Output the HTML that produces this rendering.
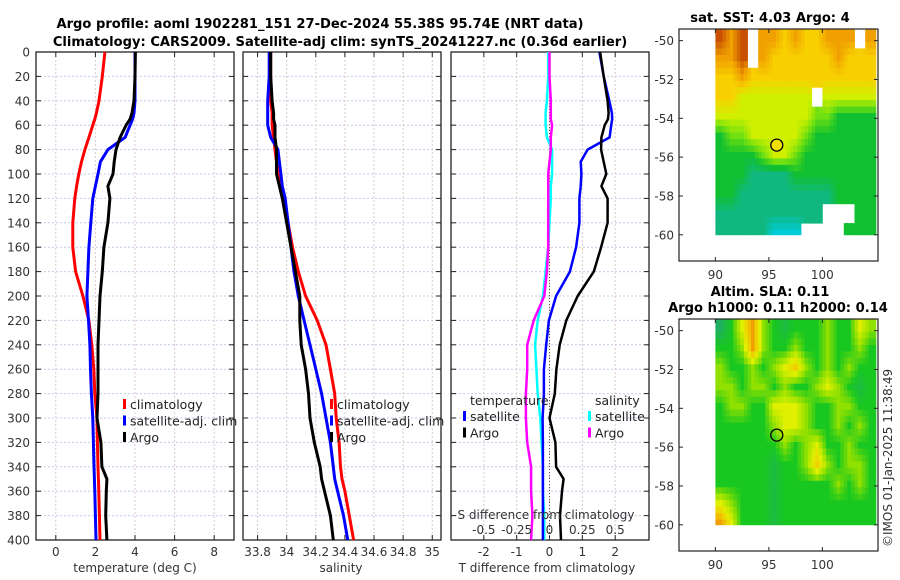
<!DOCTYPE html>
<html><head><meta charset="utf-8"><style>
html,body{margin:0;padding:0;background:#fff;}
svg{display:block;font-family:"DejaVu Sans","Liberation Sans",sans-serif;}
.tk{font-size:12px;fill:#333;}
.ttl{font-size:13.1px;font-weight:bold;fill:#000;}
.lg{font-size:12.5px;fill:#222;}
</style></head><body>
<svg id="chart" width="900" height="580" viewBox="0 0 900 580">
<text class="ttl" x="320" y="28" text-anchor="middle">Argo profile: aoml 1902281_151 27-Dec-2024 55.38S 95.74E (NRT data)</text>
<text class="ttl" x="340" y="46" text-anchor="middle">Climatology: CARS2009. Satellite-adj clim: synTS_20241227.nc (0.36d earlier)</text>
<g id="p1"></g>
<g id="p2"></g>
<g id="p3"></g>
<g id="m1"></g>
<g id="m2"></g>
<text class="tk" transform="translate(892,547) rotate(-90)">©IMOS 01-Jan-2025 11:38:49</text>
</svg>
<script>
const depths = [0,20,40,50,55,60,70,80,90,100,110,120,140,160,180,200,220,240,260,280,300,320,340,350,360,380,400];
const tempClim = [2.48,2.35,2.18,2.05,1.97,1.87,1.67,1.47,1.30,1.16,1.05,0.96,0.86,0.86,1.00,1.37,1.67,1.82,1.92,1.97,2.08,2.10,2.13,2.15,2.17,2.20,2.23];
const tempSat = [4.00,4.00,4.00,3.95,3.88,3.75,3.50,2.63,2.25,2.13,2.00,1.87,1.77,1.67,1.62,1.57,1.65,1.72,1.75,1.80,1.87,1.90,1.93,1.95,1.97,2.00,2.03];
const tempArgo = [4.02,4.00,3.95,3.85,3.75,3.55,3.25,3.04,2.95,2.89,2.63,2.73,2.63,2.43,2.35,2.23,2.18,2.13,2.13,2.13,2.08,2.28,2.33,2.58,2.55,2.52,2.58];
const salClim = [33.89,33.89,33.89,33.90,33.90,33.90,33.91,33.92,33.93,33.94,33.96,33.98,34.01,34.04,34.08,34.13,34.21,34.27,34.30,34.33,34.34,34.36,34.37,34.38,34.40,34.43,34.46];
const salSat = [33.88,33.88,33.87,33.87,33.87,33.87,33.89,33.94,33.95,33.96,33.97,33.99,34.01,34.03,34.05,34.08,34.12,34.16,34.20,34.24,34.27,34.30,34.32,34.33,34.35,34.39,34.42];
const salArgo = [33.89,33.89,33.90,33.91,33.91,33.92,33.92,33.93,33.93,33.93,33.95,33.97,34.00,34.03,34.06,34.09,34.09,34.10,34.13,34.15,34.16,34.19,34.23,34.24,34.26,34.30,34.32];
const yTicks = [0,20,40,60,80,100,120,140,160,180,200,220,240,260,280,300,320,340,360,380,400];
const tTicks = [0,2,4,6,8];
const sTicks = [33.8,34,34.2,34.4,34.6,34.8,35];
const dTicks = [-2,-1,0,1,2];
const sdTicks = [-0.5,-0.25,0,0.25,0.5];

const NS='http://www.w3.org/2000/svg';
function mk(parent,tag,attrs,text){const e=document.createElementNS(NS,tag);for(const k in attrs)e.setAttribute(k,attrs[k]);if(text!==undefined)e.textContent=text;parent.appendChild(e);return e;}
const Y0=52,Y1=540;
const yScale=d=>Y0+d/400*(Y1-Y0);

function panel(g,x0,x1,xmin,xmax,xt,showY){
  const xs=v=>x0+(v-xmin)/(xmax-xmin)*(x1-x0);
  yTicks.forEach(d=>{const y=yScale(d);
    const l=mk(g,'line',{x1:x0,x2:x1,y1:y,y2:y,stroke:'#c4cbe8','stroke-width':1,'stroke-dasharray':'2,2'});
    
    
    mk(g,'line',{x1:x0,x2:x0+5,y1:y,y2:y,stroke:'#222'});mk(g,'line',{x1:x1-5,x2:x1,y1:y,y2:y,stroke:'#222'});
    if(showY){const t=mk(g,'text',{class:'tk',x:x0-6,y:y+4.5,'text-anchor':'end'},String(d));
      
      }
  });
  xt.forEach(v=>{const x=xs(v);
    const l=mk(g,'line',{x1:x,x2:x,y1:Y0,y2:Y1,stroke:'#dcc8cc','stroke-width':1,'stroke-dasharray':'2,2'});
    
    
    mk(g,'line',{x1:x,x2:x,y1:Y1,y2:Y1-5,stroke:'#222'});mk(g,'line',{x1:x,x2:x,y1:Y0,y2:Y0+5,stroke:'#222'});
    const t=mk(g,'text',{class:'tk',x:x,y:556,'text-anchor':'middle'},String(v));
    
    
  });
  const r=mk(g,'rect',{x:x0,y:Y0,width:x1-x0,height:Y1-Y0,fill:'none',stroke:'#222','stroke-width':1.3});
  
  
  return xs;
}
function line(g,xs,vals,color,name,w){
  const pts=vals.map((v,i)=>xs(v).toFixed(1)+','+yScale(depths[i]).toFixed(1)).join(' ');
  const p=mk(g,'polyline',{points:pts,fill:'none',stroke:color,'stroke-width':w||3,'stroke-linejoin':'round'});
  
  
}
function legend(g,x,y,items){
  items.forEach((it,i)=>{const yy=y+i*16.5;
    mk(g,'rect',{x:x,y:yy-10,width:3,height:10,fill:it[1]});
    const t=mk(g,'text',{class:'lg',x:x+7,y:yy},it[0]);
    
    
  });
}
const g1=document.getElementById('p1');
const xs1=panel(g1,36,234,-1,9,tTicks,true);
line(g1,xs1,tempClim,'#f00','temp-climatology-line');
line(g1,xs1,tempSat,'#00f','temp-satellite-line');
line(g1,xs1,tempArgo,'#000','temp-argo-line');
legend(g1,123,409,[['climatology','#f00'],['satellite-adj. clim','#00f'],['Argo','#000']]);
let t=mk(g1,'text',{class:'tk',x:135,y:572,'text-anchor':'middle'},'temperature (deg C)');

const g2=document.getElementById('p2');
const xs2=panel(g2,243,441,33.7,35.06,sTicks,false);
line(g2,xs2,salClim,'#f00','sal-climatology-line');
line(g2,xs2,salSat,'#00f','sal-satellite-line');
line(g2,xs2,salArgo,'#000','sal-argo-line');
legend(g2,330,409,[['climatology','#f00'],['satellite-adj. clim','#00f'],['Argo','#000']]);
t=mk(g2,'text',{class:'tk',x:341,y:572,'text-anchor':'middle'},'salinity');

const g3=document.getElementById('p3');
const xs3=panel(g3,451,649,-3,3.03,dTicks,false);
mk(g3,'line',{x1:xs3(0),x2:xs3(0),y1:Y0,y2:Y1,stroke:'#555','stroke-dasharray':'1,2'});
const sd=(a,b)=>a.map((v,i)=>(v-b[i])*4);
const td=(a,b)=>a.map((v,i)=>v-b[i]);
line(g3,xs3,sd(salSat,salClim),'#0ff','sal-diff-satellite-line',2.5);
line(g3,xs3,sd(salArgo,salClim),'#f0f','sal-diff-argo-line',2.5);
line(g3,xs3,td(tempSat,tempClim),'#00f','temp-diff-satellite-line',2.5);
line(g3,xs3,td(tempArgo,tempClim),'#000','temp-diff-argo-line',2.5);
t=mk(g3,'text',{class:'lg',x:470,y:405},'temperature');
t=mk(g3,'text',{class:'lg',x:595,y:405},'salinity');
legend(g3,463,421,[['satellite','#00f'],['Argo','#000']]);
legend(g3,588,421,[['satellite','#0ff'],['Argo','#f0f']]);
t=mk(g3,'text',{class:'tk',x:546,y:519,'text-anchor':'middle'},'S difference from climatology');
sdTicks.forEach(v=>{const e=mk(g3,'text',{class:'tk',x:xs3(v*4),y:534,'text-anchor':'middle'},String(v));
  
  });
t=mk(g3,'text',{class:'tk',x:547,y:572,'text-anchor':'middle'},'T difference from climatology');

const sstGrid=[
[7,6,7,-1,6,6,5,6,5,5,6,6,6,-1,6],
[6,6,7,-1,6,5,5,5,5,5,5,6,5,5,5],
[5,5,6,5,5,5,5,5,5,5,5,5,5,5,5],
[5,5,4,4,4,4,4,4,4,-1,4,4,4,4,4],
[4,4,4,4,4,4,4,4,4,3,3,2,2,2,2],
[2,3,3,4,4,4,4,4,3,2,2,2,2,2,2],
[2,2,2,2,3,4,4,3,2,2,2,2,2,2,2],
[2,2,2,1,1,1,1,2,2,2,2,2,2,2,2],
[2,2,1,1,1,1,1,1,1,1,1,2,2,2,2],
[1,1,1,1,1,1,1,1,1,1,-1,-1,-1,2,2],
[1,1,1,1,1,0,0,0,-1,-1,-1,-1,2,2,2]];
const slaGrid=[
[1,2,4,6,3,2,1.5,2,2,2,3,2,2,4,3],
[2,2,3,6,3,2,2,3,2,2,3,2,2,3,2],
[3,2,2,3,2,3,4,5,3,2,3,2,3,2,2],
[3,3,2,3,3,2,3,2,2,3,4,3,2,1.5,2],
[2,3,3,2,2,4,4,4,3,2,2,3,3,2,2],
[2,2,2,2,2,3,4,4,3,2,2,3,2,3,2],
[2,2,2,2,2,2,3,2,3,4,2,2,3,2,2],
[2,2,2,2,2,1.5,2,2,3,5,3,2,3,3,2],
[2,2,2,2,2,1.5,2,2,2,2,2,3,2,3,2],
[4,3,2,2,2,1.5,2,2,2,2,2,2,2,2,2],
[6,4,2,2,2,1.5,2,2,2,2,2,2,2,2,2]];
const sstColors=['#00ccd8','#10b880','#10c030','#70e010','#d0f000','#f8d000','#f0a000','#c85000'];
const slaColors=['#20c0d0','#20b060','#18c820','#90e000','#e0f000','#f0d000','#f0a000'];
const latTicks=[-50,-52,-54,-56,-58,-60];
const lonTicks=[90,95,100];
const argoLon=95.74, argoLat=-55.38;

function hex(c){return [1,3,5].map(k=>parseInt(c.substr(k,2),16));}
function cmap(colors,v){v=Math.max(0,Math.min(colors.length-1,v));const i=Math.min(colors.length-2,Math.floor(v)),f=v-i;
  const a=hex(colors[i]),b=hex(colors[i+1]);return 'rgb('+a.map((x,k)=>Math.round(x+(b[k]-x)*f)).join(',')+')';}
function sample(grid,r,c){
  const R=grid.length,C=grid[0].length;
  const ni=Math.min(R-1,Math.max(0,Math.floor(r))),nj=Math.min(C-1,Math.max(0,Math.floor(c)));
  if(grid[ni][nj]<0)return -1;
  const r0=Math.max(0,Math.min(R-1,r-0.5)),c0=Math.max(0,Math.min(C-1,c-0.5));
  const i0=Math.floor(r0),j0=Math.floor(c0),i1=Math.min(R-1,i0+1),j1=Math.min(C-1,j0+1),fr=r0-i0,fc=c0-j0;
  let s=0,w=0;[[i0,j0,(1-fr)*(1-fc)],[i0,j1,(1-fr)*fc],[i1,j0,fr*(1-fc)],[i1,j1,fr*fc]].forEach(p=>{const v=grid[p[0]][p[1]];if(v>=0){s+=v*p[2];w+=p[2];}});
  return w>0?s/w:grid[ni][nj];
}
function map(g,top,bottom,latTop,latBot,grid,colors,dotFill){
  const x0=679,x1=878,lonMin=86.6,lonMax=105.2;
  const xs=v=>x0+(v-lonMin)/(lonMax-lonMin)*(x1-x0);
  const ys=v=>top+(latTop-v)/(latTop-latBot)*(bottom-top);
  const sub=3,R=grid.length,C=grid[0].length;
  for(let a=0;a<R*sub;a++){for(let b=0;b<C*sub;b++){
    const la0=-49.4-a/sub; if(la0<=-60)continue; const la1=Math.max(-60,la0-1/sub);
    const lo0=90+b/sub; if(lo0>=105.2)continue; const lo1=Math.min(105.2,lo0+1/sub);
    const v=sample(grid,(a+0.5)/sub,(b+0.5)/sub); if(v<0)continue;
    const c=mk(g,'rect',{x:xs(lo0).toFixed(1),y:ys(la0).toFixed(1),width:(xs(lo1)-xs(lo0)+0.4).toFixed(1),height:(ys(la1)-ys(la0)+0.4).toFixed(1),fill:cmap(colors,v)});
    
    
  }}
  latTicks.forEach(v=>{const y=ys(v);
    mk(g,'line',{x1:x0,x2:x0+4,y1:y,y2:y,stroke:'#222'});mk(g,'line',{x1:x1-4,x2:x1,y1:y,y2:y,stroke:'#222'});
    const e=mk(g,'text',{class:'tk',x:x0-5,y:y+4.5,'text-anchor':'end'},String(v));
    
    });
  lonTicks.forEach(v=>{const x=xs(v);
    mk(g,'line',{x1:x,x2:x,y1:bottom,y2:bottom-4,stroke:'#222'});mk(g,'line',{x1:x,x2:x,y1:top,y2:top+4,stroke:'#222'});
    const e=mk(g,'text',{class:'tk',x:x,y:bottom+18,'text-anchor':'middle'},String(v));
    
    });
  const c=mk(g,'ellipse',{cx:xs(argoLon),cy:ys(argoLat),rx:6,ry:6,fill:dotFill,stroke:'#000','stroke-width':1.3});
  
  
  const r=mk(g,'rect',{x:x0,y:top,width:x1-x0,height:bottom-top,fill:'none',stroke:'#222','stroke-width':1.2});
  
  
}
const m1=document.getElementById('m1');
map(m1,29,261,-49.4,-61.35,sstGrid,sstColors,'#f0e000');
t=mk(m1,'text',{class:'ttl',x:770,y:22,'text-anchor':'middle'},'sat. SST: 4.03 Argo: 4');
const m2=document.getElementById('m2');
map(m2,319,551,-49.4,-61.35,slaGrid,slaColors,'none');
t=mk(m2,'text',{class:'ttl',x:770,y:296,'text-anchor':'middle'},'Altim. SLA: 0.11');
t=mk(m2,'text',{class:'ttl',x:778,y:312,'text-anchor':'middle'},'Argo h1000: 0.11 h2000: 0.14');
</script>
</body></html>
